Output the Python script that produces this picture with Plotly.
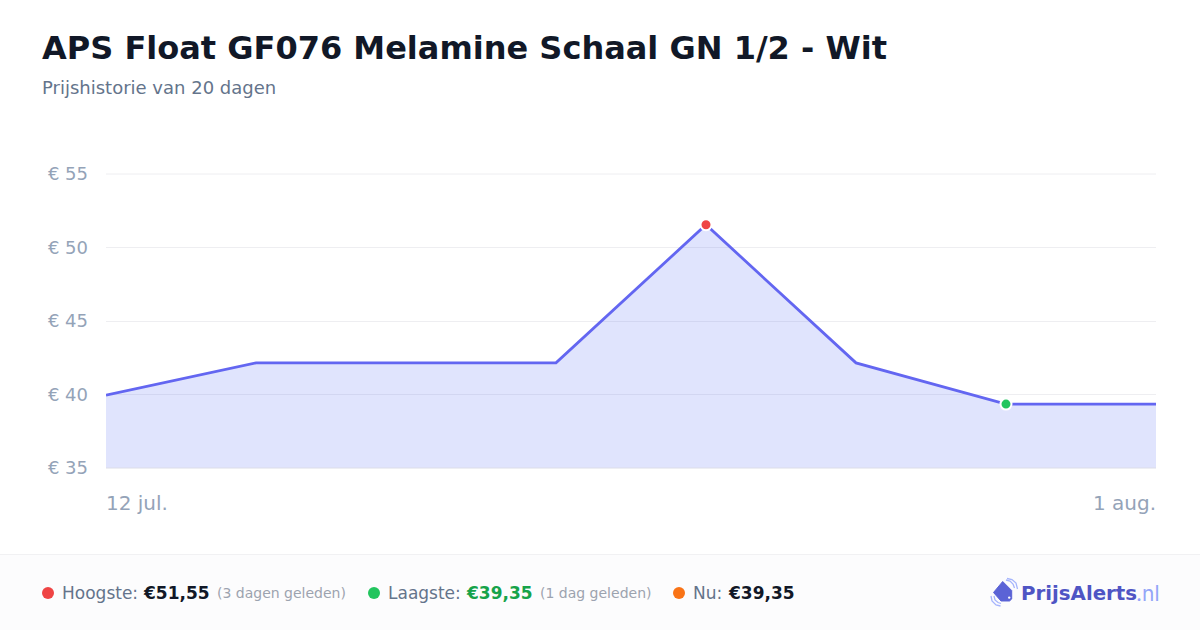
import plotly.graph_objects as go

# === Data ===
x_pos = [0, 1, 2, 3, 4, 5, 6, 7]
prices = [39.95, 42.15, 42.15, 42.15, 51.55, 42.15, 39.35, 39.35]
y_ticks = [35, 40, 45, 50, 55]
y_labels = ["€ 35", "€ 40", "€ 45", "€ 50", "€ 55"]
start_label = "12 jul."
end_label = "1 aug."
title = "APS Float GF076 Melamine Schaal GN 1/2 - Wit"
subtitle = "Prijshistorie van 20 dagen"

W, H = 1200, 630
FONT = "DejaVu Sans"
L, R, T, B = 106, 1156, 174, 468


# paper coords run over the plot area, so convert from page pixels
def px(x):
    return (x - L) / (R - L)


def py(y):
    return (B - y) / (B - T)


def text(x, y, s, size, color, bold=False, anchor="left", family=FONT):
    return dict(
        x=px(x), y=py(y), xref="paper", yref="paper", text=f"<b>{s}</b>" if bold else s,
        showarrow=False, xanchor=anchor, yanchor="middle", align=anchor,
        font=dict(family=family, size=size, color=color), borderpad=0, borderwidth=0,
    )


def dot(cx, cy, r, color):
    return dict(
        type="circle", xref="paper", yref="paper", layer="above",
        x0=px(cx - r), x1=px(cx + r), y0=py(cy + r), y1=py(cy - r),
        fillcolor=color, line=dict(width=0),
    )


def path(points, close=False):
    s = "M " + " L ".join(f"{px(a):.5f},{py(b):.5f}" for a, b in points)
    return s + (" Z" if close else "")


fig = go.Figure()

# Area and line
fig.add_trace(go.Scatter(
    x=x_pos, y=prices, mode="lines", fill="tozeroy",
    fillcolor="rgba(85,105,245,0.18)",
    line=dict(color="#6366f1", width=2.8),
    showlegend=False, hoverinfo="skip",
))

# High and low markers
i_high = prices.index(max(prices))
i_low = prices.index(min(prices))
fig.add_trace(go.Scatter(
    x=[x_pos[i_high], x_pos[i_low]], y=[prices[i_high], prices[i_low]], mode="markers",
    marker=dict(color=["#ef4444", "#22c55e"], size=11, line=dict(color="white", width=2)),
    showlegend=False, hoverinfo="skip", cliponaxis=False,
))

annotations = [
    text(42, 48, f"<b>{title}</b>", 32, "#111827"),
    text(42, 87, subtitle, 18, "#64748b"),
    text(106, 503, start_label, 20, "#94a3b8"),
    text(1156, 503, end_label, 20, "#94a3b8", anchor="right"),
    # Footer
    text(62, 593, "Hoogste:", 17, "#64748b"),
    text(142.5, 593, "€51,55", 17, "#111827", bold=True),
    text(217, 593, "(3 dagen geleden)", 14, "#9ca3af"),
    text(388, 593, "Laagste:", 17, "#64748b"),
    text(465.5, 593, "€39,35", 17, "#16a34a", bold=True),
    text(540, 593, "(1 dag geleden)", 14, "#9ca3af"),
    text(693, 593, "Nu:", 17, "#64748b"),
    text(727.5, 593, "€39,35", 17, "#111827", bold=True),
    # Logo text
    text(1021, 593, "<b>PrijsAlerts</b>", 19.8, "#4f55c4"),
    text(1135.5, 593, ".nl", 21, "#93a5f8", family="Inter"),
]

shapes = [
    # Top and bottom gridlines sit on the axis bounds, paper refs keep them unclipped
    dict(type="line", xref="paper", yref="paper", layer="above", x0=0, x1=1,
         y0=1, y1=1, line=dict(color="#eeeef1", width=1)),
    dict(type="line", xref="paper", yref="paper", layer="above", x0=0, x1=1,
         y0=0, y1=0, line=dict(color="#dcdde8", width=1)),
    # Footer background and border
    dict(type="rect", xref="paper", yref="paper", layer="below",
         x0=px(-2), x1=px(W + 2), y0=py(H + 3), y1=py(554.5), fillcolor="#fcfcfd", line=dict(width=0)),
    dict(type="line", xref="paper", yref="paper", layer="below",
         x0=px(-2), x1=px(W + 2), y0=py(554.5), y1=py(554.5), line=dict(color="#f1f1f3", width=1)),
    dot(48, 593, 6, "#ef4444"),
    dot(374, 593, 6, "#22c55e"),
    dot(679, 593, 6, "#f97316"),
    # Logo: tag and signal arcs
    dict(type="path", xref="paper", yref="paper", layer="above",
         path=path([(1002.7, 581.5), (1011.7, 590.5), (1011.7, 599), (1009.5, 601),
                    (1001, 601), (993.5, 592.5)], close=True),
         fillcolor="#5b63d6", line=dict(color="#5b63d6", width=1)),
    dot(1009.2, 597.6, 1.2, "#ffffff"),
    dict(type="path", xref="paper", yref="paper", layer="above",
         path=path([(1006, 580), (1010, 581), (1013, 584), (1014.5, 588)]),
         line=dict(color="#a5b4fc", width=1.3)),
    dict(type="path", xref="paper", yref="paper", layer="above",
         path=path([(1007, 578.5), (1012, 579.5), (1016, 583), (1017.5, 589)]),
         line=dict(color="#a5b4fc", width=1.3)),
    dict(type="path", xref="paper", yref="paper", layer="above",
         path=path([(994, 596), (995, 600), (998, 602.5), (1001, 603.5)]),
         line=dict(color="#a5b4fc", width=1.3)),
    dict(type="path", xref="paper", yref="paper", layer="above",
         path=path([(991, 596), (992, 601), (996, 605), (1000.5, 606)]),
         line=dict(color="#a5b4fc", width=1.3)),
]

fig.update_layout(
    width=W, height=H, autosize=False,
    margin=dict(l=L, r=W - R, t=T, b=H - B, pad=0),
    paper_bgcolor="white", plot_bgcolor="white",
    showlegend=False,
    font=dict(family=FONT),
    annotations=annotations,
    shapes=shapes,
    xaxis=dict(range=[x_pos[0], x_pos[-1]], showgrid=False, zeroline=False,
               showticklabels=False, ticks="", showline=False),
    yaxis=dict(range=[y_ticks[0], y_ticks[-1]], tickvals=y_ticks, ticktext=y_labels,
               gridcolor="#eeeef1", gridwidth=1, zeroline=False, showline=False,
               ticks="", ticklabelstandoff=17,
               tickfont=dict(family=FONT, size=18, color="#94a3b8")),
)

fig.write_html(
    "out.html",
    config=dict(displayModeBar=False),
    post_script="document.body.style.margin='0';document.body.style.overflow='hidden';",
)
